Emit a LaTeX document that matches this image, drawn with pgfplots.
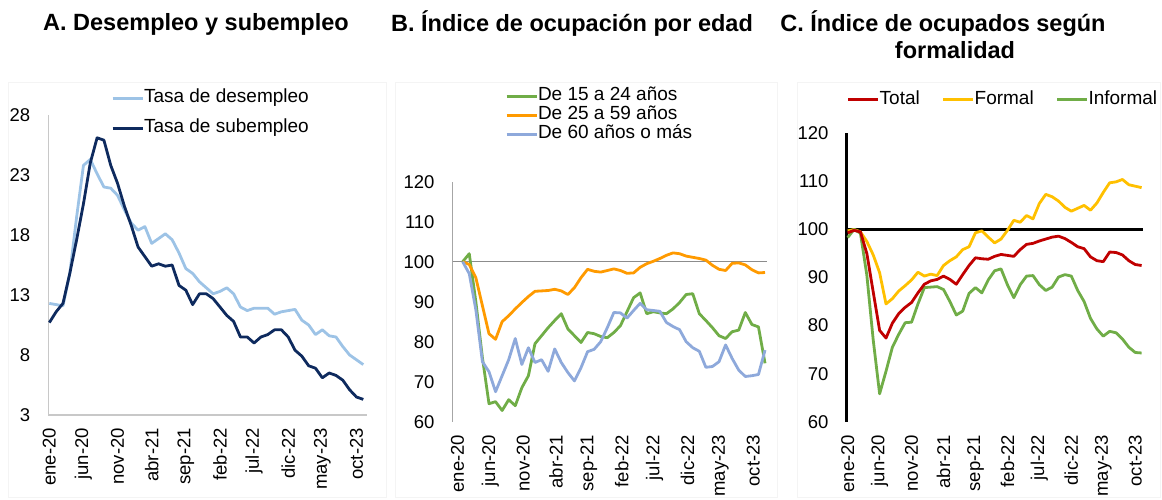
\documentclass[border=0pt]{standalone}
\usepackage{fontspec}
\setmainfont{Liberation Sans}
\usepackage{pgfplots}
\pgfplotsset{compat=1.18}
\usepackage{pgfplotstable}

\definecolor{cLight}{HTML}{9DC3E6}
\definecolor{cDark}{HTML}{0E2A5E}
\definecolor{cGreen}{HTML}{70AD47}
\definecolor{cOrange}{HTML}{FF9A00}
\definecolor{cBlue}{HTML}{8EA9DB}
\definecolor{cRed}{HTML}{C00000}
\definecolor{cYellow}{HTML}{FFC000}
\definecolor{cAxisA}{HTML}{C8C8C8}
\definecolor{cAxisB}{HTML}{A6A6A6}
\definecolor{cRefB}{HTML}{8C8C8C}
\definecolor{cFrame}{HTML}{F4F4F4}

\pgfplotstableread{
des sub
12.3 10.7
12.2 11.6
12.1 12.3
14.8 14.8
19.5 17.6
23.8 20.6
24.3 24.0
23.1 26.1
22.0 25.9
21.9 23.8
21.3 22.3
20.1 20.4
19.0 18.8
18.4 17.0
18.7 16.2
17.3 15.4
17.7 15.6
18.1 15.4
17.6 15.5
16.5 13.8
15.2 13.4
14.8 12.2
14.1 13.1
13.6 13.1
13.1 12.7
13.3 12.0
13.6 11.3
13.1 10.8
12.0 9.5
11.7 9.5
11.9 9.0
11.9 9.5
11.9 9.7
11.4 10.1
11.6 10.1
11.7 9.5
11.8 8.4
10.9 7.9
10.5 7.1
9.7 6.9
10.1 6.1
9.6 6.5
9.5 6.3
8.7 5.9
8.0 5.1
7.6 4.5
7.2 4.3
}\tabA

\pgfplotstableread{
g o b
100 100 100
102 99.3 97
90 96 88
76 89 75
64.5 82 72.5
65 80.6 67.5
62.8 85 71.5
65.5 86.5 75.5
64 88.2 80.8
68.5 89.8 74.3
71.5 91.3 78.5
79.5 92.6 74.8
81.5 92.7 75.5
83.5 92.8 72.6
85.3 93.1 78.2
87 92.7 74.8
83.2 91.8 72.3
81.5 93.5 70.2
79.8 96.0 73.5
82.3 98.1 77.5
82 97.6 78.1
81.3 97.4 80
81 97.8 83.5
82.3 98.2 87.3
84 97.8 87.2
87.5 97.1 85.9
91 97.2 87.8
92.2 98.6 89.6
87 99.5 88
87.5 100.1 87.8
87.2 100.8 87.6
87 101.6 84.8
88.2 102.2 83.8
89.8 102 83
91.8 101.4 80
92 101.1 78.5
87 100.8 77.6
85.3 100.4 73.6
83.5 99.1 73.8
81.5 98.1 75
80.8 97.8 79.2
82.5 99.6 75.8
82.9 99.7 72.9
87.3 99.2 71.3
84.3 98 71.5
83.7 97.2 71.8
74.6 97.3 77.9
}\tabB

\pgfplotstableread{
t f i
99.3 99.7 98.3
99.8 100 100
99.5 99.5 99.2
95 97.5 90.5
87 94.7 77
79 91 65.8
77.4 84.5 70.5
80.5 85.6 75.5
82.5 87.2 78.2
83.8 88.3 80.6
84.8 89.5 80.7
86.8 91.1 84.5
88.6 90.3 87.9
89.3 90.7 88
89.6 90.4 88.1
90.3 92.5 87.5
89.6 93.5 85
88.6 94.3 82.2
90.6 95.8 83
92.5 96.4 86.7
94.1 99.3 87.9
93.9 99.7 86.8
93.8 98.4 89.5
94.4 97.2 91.4
94.8 98 91.8
94.6 99.8 88.5
94.4 101.9 85.8
95.8 101.5 88.5
96.9 102.9 90.3
97.1 102.2 90.4
97.6 105.4 88.5
98 107.3 87.3
98.4 106.8 88
98.6 105.9 90.1
98.1 104.6 90.6
97.3 103.8 90.3
96.4 104.4 87.3
96 105 85
94.3 104 81.5
93.5 105.5 79.3
93.3 107.7 77.8
95.3 109.7 78.8
95.2 109.9 78.5
94.7 110.4 77.2
93.5 109.3 75.5
92.7 109 74.4
92.5 108.7 74.3
}\tabC

\pgfplotsset{
  panel/.style={
    scale only axis,
    axis lines=left,
    axis line style={-},
    xtick={0,5,...,45},
    xticklabels={ene-20,jun-20,nov-20,abr-21,sep-21,feb-22,jul-22,dic-22,may-23,oct-23},
    major tick length=0pt,
    tick label style={font=\fontsize{18.5}{18.5}\selectfont},
    /pgf/number format/assume math mode=true,
    xticklabel style={rotate=90, anchor=east, inner sep=0pt},
    yticklabel style={anchor=east, inner sep=0pt},
    xticklabel shift=13pt,
    yticklabel shift=18pt,
    legend cell align=left,
    legend image code/.code={\draw[##1] (0pt,0pt) -- (30pt,0pt);},
    legend style={draw=none, fill=none, inner sep=0pt,
      font=\fontsize{19}{19}\selectfont,
      nodes={inner sep=0pt, text height=14pt, text depth=5pt}},
    clip=false,
    every axis plot/.append style={line width=2.8pt, line join=round},
  }
}

\begin{document}
\begin{tikzpicture}[x=1pt,y=1pt]
\useasboundingbox (0,0) rectangle (1162,499);

% faint panel frames
\draw[cFrame, line width=0.8pt] (8,2) rectangle (386,417);
\draw[cFrame, line width=0.8pt] (395,2) rectangle (777,417);
\draw[cFrame, line width=0.8pt] (797,2) rectangle (1160,417);

% Titles
\node[font=\fontsize{23.5}{28}\selectfont\bfseries] at (196,475) {A. Desempleo y subempleo};
\node[font=\fontsize{23.5}{28}\selectfont\bfseries] at (572,475) {B. Índice de ocupación por edad};
\node[font=\fontsize{23.5}{28}\selectfont\bfseries] at (943,475) {C. Índice de ocupados según};
\node[font=\fontsize{23.5}{28}\selectfont\bfseries] at (955,449) {formalidad};

% Panel A
\begin{axis}[panel,
  at={(48.3pt,84pt)}, anchor=south west,
  width=318.4pt, height=300pt,
  xmin=-0.15, xmax=46.5, ymin=3, ymax=28,
  ytick={3,8,13,18,23,28},
  axis line style={cAxisA, line width=1.3pt},
  legend style={at={(0.197,1.088)}, anchor=north west, row sep=11pt},
]
\addplot[cLight] table[x expr=\coordindex, y=des] {\tabA};
\addlegendentry{Tasa de desempleo}
\addplot[cDark] table[x expr=\coordindex, y=sub] {\tabA};
\addlegendentry{Tasa de subempleo}
\end{axis}

% Panel B
\begin{axis}[panel,
  at={(452.7pt,77.3pt)}, anchor=south west,
  width=314.3pt, height=240pt,
  xmin=-1.52, xmax=46.3, ymin=60, ymax=120,
  xtick={-0.8,4.2,9.2,14.2,19.2,24.2,29.2,34.2,39.2,44.2},
  ytick={60,70,...,120},
  y axis line style={cAxisB, line width=1.3pt},
  x axis line style={draw=none},
  legend style={at={(0.1664,1.3967)}, anchor=north west, row sep=0pt},
]
\addplot[cRefB, line width=1.3pt, forget plot] coordinates {(-1.52,100) (46.3,100)};
\addplot[cGreen] table[x expr=\coordindex, y=g] {\tabB};
\addlegendentry{De 15 a 24 años}
\addplot[cOrange] table[x expr=\coordindex, y=o] {\tabB};
\addlegendentry{De 25 a 59 años}
\addplot[cBlue] table[x expr=\coordindex, y=b] {\tabB};
\addlegendentry{De 60 años o más}
\end{axis}

% Panel C
\begin{axis}[panel,
  at={(846.7pt,77.3pt)}, anchor=south west,
  width=296.5pt, height=288.4pt,
  xmin=-0.15, xmax=46.25, ymin=60, ymax=120,
  ytick={60,70,...,120},
  y axis line style={black, line width=2.5pt},
  x axis line style={draw=none},
  legend columns=3,
  legend style={at={(0,1.1508)}, anchor=north west,
    /tikz/every even column/.append style={column sep=22pt}},
]
\addplot[black, line width=2.5pt, forget plot] coordinates {(-0.15,100) (46.25,100)};
\addplot[cYellow, forget plot] table[x expr=\coordindex, y=f] {\tabC};
\addplot[cGreen, forget plot] table[x expr=\coordindex, y=i] {\tabC};
\addplot[cRed] table[x expr=\coordindex, y=t] {\tabC};
\addlegendentry{Total}
\addlegendimage{cYellow}
\addlegendentry{Formal}
\addlegendimage{cGreen}
\addlegendentry{Informal}
\end{axis}
\end{tikzpicture}
\end{document}
